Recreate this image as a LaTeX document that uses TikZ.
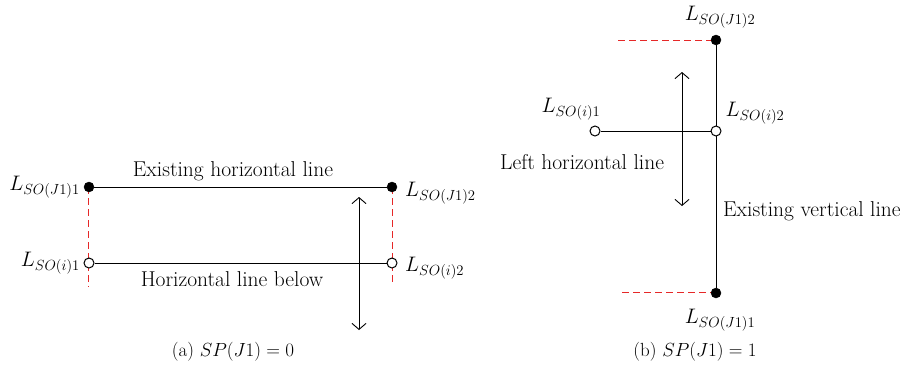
\RequirePackage{fix-cm}
\documentclass[tikz,border=0pt]{standalone}
\usepackage{fontspec}
\usetikzlibrary{arrows.meta}
\definecolor{dashred}{RGB}{230,40,40}
\begin{document}
\begin{tikzpicture}[x=1pt,y=-1pt,
  txt/.style={font=\fontsize{21.5}{25}\selectfont, inner sep=0pt},
  captxt/.style={font=\fontsize{19}{22}\selectfont, inner sep=0pt},
  lab/.style={font=\fontsize{21}{25}\selectfont, inner sep=0pt},
  fdot/.style={circle, fill=black, draw=black, minimum size=10pt, inner sep=0pt},
  odot/.style={circle, fill=white, draw=black, line width=1pt, minimum size=10pt, inner sep=0pt},
  seg/.style={line width=1pt},
  guide/.style={dashred, dash pattern=on 7pt off 4pt, line width=1.3pt},
  mv/.style={line width=0.9pt, {Straight Barb[length=6pt,width=14pt]}-{Straight Barb[length=6pt,width=14pt]}}
]
\useasboundingbox (0,0) rectangle (900,375);

% ---------- (a) ----------
\coordinate (ga1) at (88.5,287);
\coordinate (ga2) at (392.5,284);
\draw[guide] (88.5,187) -- (ga1);
\draw[guide] (392.5,187) -- (ga2);
\node[fdot] (j1) at (89,187) {};
\node[fdot] (j2) at (392,187) {};
\node[odot] (i1) at (89,263) {};
\node[odot] (i2) at (392,263) {};
\draw[seg] (j1) -- (j2);
\draw[seg] (i1) -- (i2);
\node[txt] (eh) at (233,171) {Existing horizontal line};
\node[txt] (hb) at (232,279) {Horizontal line below};
\node[lab, anchor=east] (lj1) at (80,187) {$L_{SO(J1)1}$};
\node[lab, anchor=west] (lj2) at (405,193) {$L_{SO(J1)2}$};
\node[lab, anchor=east] (li1) at (80,263) {$L_{SO(i)1}$};
\node[lab, anchor=west] (li2) at (405,268) {$L_{SO(i)2}$};
\coordinate (a1) at (359,197);
\coordinate (a2) at (359,330);
\draw[mv] (a2) -- (a1);
\node[captxt] (capa) at (233,352) {(a)\ $SP(J1)=0$};

% ---------- (b) ----------
\coordinate (gb1) at (618,40.5);
\coordinate (gb2) at (622,292.5);
\draw[guide] (gb1) -- (716,40.5);
\draw[guide] (gb2) -- (716,292.5);
\node[fdot] (bj2) at (716,40) {};
\node[fdot] (bj1) at (716,293) {};
\draw[seg] (bj2) -- (bj1);
\node[odot] (bi1) at (595,131) {};
\node[odot] (bi2) at (716,131) {};
\draw[seg] (bi1) -- (bi2);
\node[lab] (lbj2) at (720,17) {$L_{SO(J1)2}$};
\node[lab] (lbj1) at (720,320) {$L_{SO(J1)1}$};
\node[lab] (lbi1) at (571,109) {$L_{SO(i)1}$};
\node[lab] (lbi2) at (755,113) {$L_{SO(i)2}$};
\node[txt, anchor=west] (lh) at (500,162) {Left horizontal line};
\node[txt, anchor=west] (ev) at (723,211) {Existing vertical line};
\coordinate (b1) at (682,72);
\coordinate (b2) at (682,206);
\draw[mv] (b2) -- (b1);
\node[captxt] (capb) at (695,352) {(b)\ $SP(J1)=1$};
\end{tikzpicture}
\end{document}
